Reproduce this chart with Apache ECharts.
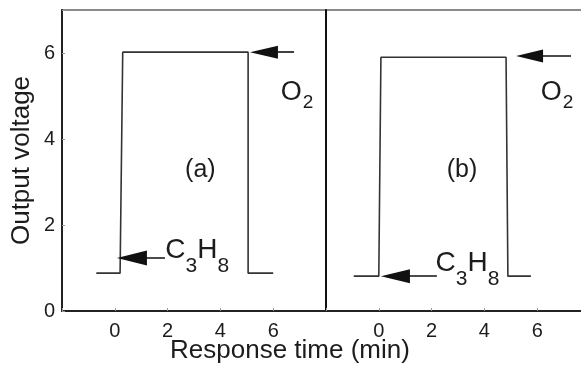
<!DOCTYPE html>
<html>
<head>
<meta charset="utf-8">
<title>Response time</title>
<script src="https://cdn.jsdelivr.net/npm/echarts@6/dist/echarts.min.js"></script>
</head>
<body style="margin:0;background:#fff">
<div id="main" style="width:581px;height:368px"></div>
<script>
// traces (time in min, output voltage)
var timeA = [-0.7, 0.2, 0.3, 5.05, 5.05, 6.0];
var voltA = [0.88, 0.88, 6.02, 6.02, 0.88, 0.88];
var timeB = [-0.95, 0.0, 0.08, 4.82, 4.89, 5.76];
var voltB = [0.81, 0.81, 5.9, 5.9, 0.81, 0.81];
var xTicks = [0, 2, 4, 6];
var yTicks = [0, 2, 4, 6];

var FONT = 'Liberation Sans';
var INK = '#1c1c1c';

function pairs(xs, ys) {
    var out = [];
    for (var i = 0; i < xs.length; i++) out.push([xs[i], ys[i]]);
    return out;
}
// the triangle is centred on the end point, so the end sits half a head back from the tip
function arrow(from, to, size) {
    return [{coord: from, symbol: 'none'}, {coord: to, symbol: 'triangle', symbolSize: size}];
}
function note(coord, text) {
    return {coord: coord, name: text};
}

var rich = {
    o: {fontFamily: FONT, fontSize: 27, lineHeight: 24, verticalAlign: 'top', color: INK},
    s: {fontFamily: FONT, fontSize: 19, lineHeight: 48, color: INK, padding: [0, 0, 0, 1]},
    c: {fontFamily: FONT, fontSize: 28, lineHeight: 26, verticalAlign: 'top', color: INK},
    t: {fontFamily: FONT, fontSize: 21, lineHeight: 60, color: INK},
    p: {fontFamily: FONT, fontSize: 25, lineHeight: 28, color: INK}
};

function panelSeries(idx, xs, ys, arrows, notes) {
    return {
        type: 'line',
        xAxisIndex: idx,
        yAxisIndex: idx,
        data: pairs(xs, ys),
        symbol: 'none',
        animation: false,
        lineStyle: {color: '#333', width: 1.6},
        markLine: {
            silent: true,
            animation: false,
            label: {show: false},
            lineStyle: {color: '#111', width: 1.6, type: 'solid'},
            data: arrows
        },
        markPoint: {
            silent: true,
            animation: false,
            symbol: 'circle',
            symbolSize: 1,
            itemStyle: {color: 'rgba(0,0,0,0)'},
            label: {
                show: true,
                position: 'inside',
                formatter: function (p) { return p.name; },
                rich: rich
            },
            data: notes
        }
    };
}

function xAxis(idx) {
    return {
        type: 'value', gridIndex: idx, min: -2, max: 8, interval: 2,
        splitLine: {show: false},
        axisLine: {onZero: false, lineStyle: {color: '#222', width: 2}},
        axisTick: {inside: true, length: 3, lineStyle: {color: '#999'}},
        axisLabel: {
            margin: 10, fontFamily: FONT, fontSize: 20, color: INK,
            formatter: function (v) { return xTicks.indexOf(v) >= 0 ? String(v) : ''; }
        }
    };
}

var myChart = echarts.init(document.getElementById('main'), null, {renderer: 'canvas'});

var option = {
    backgroundColor: '#fff',
    grid: [
        {left: 62, top: 10, width: 264, bottom: 57, show: true, borderColor: '#666', borderWidth: 1.5, outerBoundsMode: 'none'},
        {left: 326, top: 10, width: 264, bottom: 57, show: true, borderColor: '#666', borderWidth: 1.5, outerBoundsMode: 'none'}
    ],
    xAxis: [xAxis(0), xAxis(1)],
    yAxis: [
        {
            type: 'value', gridIndex: 0, min: 0, max: 7, interval: 2,
            splitLine: {show: false},
            axisLine: {onZero: false, lineStyle: {color: '#222', width: 2}},
            axisTick: {inside: true, length: 3, lineStyle: {color: '#999'}},
            axisLabel: {
                margin: 7, fontFamily: FONT, fontSize: 20, color: INK,
                formatter: function (v) { return yTicks.indexOf(v) >= 0 ? String(v) : ''; }
            },
            name: 'Output voltage',
            nameLocation: 'middle',
            nameGap: 27,
            nameTextStyle: {fontFamily: FONT, fontSize: 26, color: INK}
        },
        {
            type: 'value', gridIndex: 1, min: 0, max: 7, interval: 2,
            splitLine: {show: false},
            axisLine: {onZero: false, lineStyle: {color: '#111', width: 2}},
            axisTick: {show: false},
            axisLabel: {show: false}
        }
    ],
    graphic: [{
        type: 'text',
        x: 290, y: 351,
        style: {
            text: 'Response time (min)',
            fontFamily: FONT, fontSize: 26, fill: INK,
            textAlign: 'center', textVerticalAlign: 'middle'
        }
    }],
    series: [
        panelSeries(0, timeA, voltA,
            [arrow([6.79, 6.02], [5.65, 6.02], [13, 28]),
             arrow([1.9, 1.23], [0.65, 1.23], [15, 30])],
            [note([6.9, 4.84], '{o|O}{s|2}'),
             note([3.24, 3.28], '{p|(a)}'),
             note([3.12, 1.05], '{c|C}{t|3}{c|H}{t|8}')]),
        panelSeries(1, timeB, voltB,
            [arrow([7.28, 5.93], [5.71, 5.93], [13, 27]),
             arrow([2.2, 0.81], [0.63, 0.81], [14, 29])],
            [note([6.75, 4.84], '{o|O}{s|2}'),
             note([3.15, 3.28], '{p|(b)}'),
             note([3.36, 0.74], '{c|C}{t|3}{c|H}{t|8}')])
    ]
};

myChart.setOption(option);
</script>
</body>
</html>
